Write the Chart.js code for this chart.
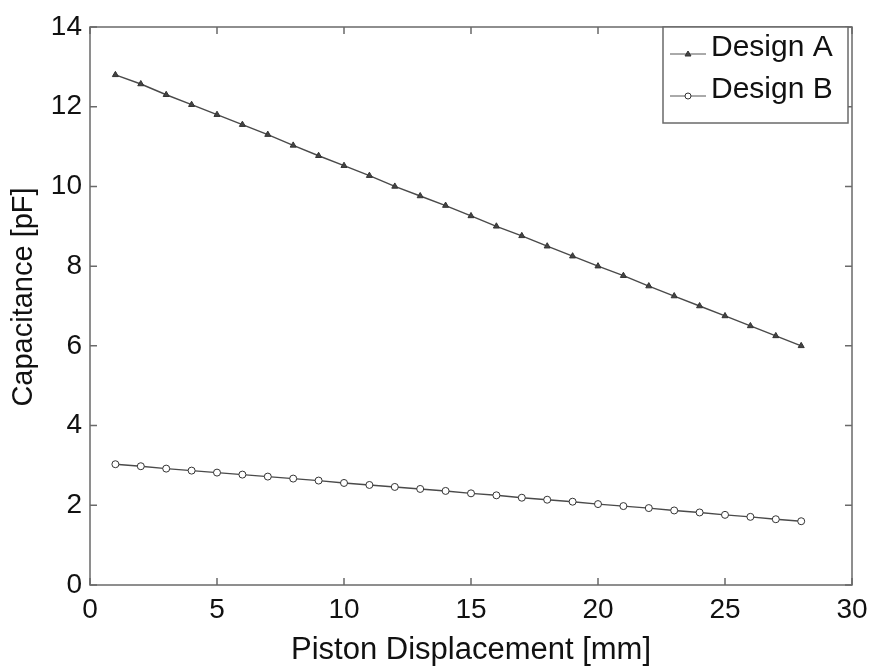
<!DOCTYPE html>
<html>
<head>
<meta charset="utf-8">
<script src="https://cdn.jsdelivr.net/npm/chart.js@4.4.1/dist/chart.umd.min.js"></script>
<style>
  html, body { margin: 0; padding: 0; background: #fff; }
  #wrap { width: 869px; height: 669px; }
</style>
</head>
<body>
<div id="wrap"><canvas id="capChart" width="869" height="669"></canvas></div>
<script>
// piston displacement [mm]
const displacement = [1, 2, 3, 4, 5, 6, 7, 8, 9, 10, 11, 12, 13, 14, 15, 16, 17, 18, 19, 20, 21, 22, 23, 24, 25, 26, 27, 28];
// capacitance [pF]
const designA = [12.8, 12.57, 12.3, 12.05, 11.8, 11.55, 11.3, 11.03, 10.77, 10.52, 10.27, 10.0, 9.76, 9.52,
                 9.26, 9.0, 8.76, 8.5, 8.25, 8.0, 7.76, 7.5, 7.25, 7.0, 6.75, 6.5, 6.25, 6.0];
const designB = [3.03, 2.98, 2.92, 2.87, 2.82, 2.77, 2.72, 2.67, 2.62, 2.56, 2.51, 2.46, 2.41, 2.36,
                 2.3, 2.25, 2.19, 2.14, 2.09, 2.03, 1.98, 1.93, 1.87, 1.82, 1.76, 1.71, 1.65, 1.6];
const xTicks = [0, 5, 10, 15, 20, 25, 30];
const yTicks = [0, 2, 4, 6, 8, 10, 12, 14];
const yTitle = 'Capacitance [pF]';

const FONT = '"Liberation Sans", Arial, Helvetica, sans-serif';
const AXIS_COLOR = '#6a6a6a';

// MATLAB style box with inward ticks, plus the y axis title
const boxPlugin = {
    id: 'boxTicks',
    afterDatasetsDraw(chart) {
        const { ctx, chartArea: a, scales } = chart;
        const len = 7;
        ctx.save();
        ctx.strokeStyle = AXIS_COLOR;
        ctx.lineWidth = 1.5;
        ctx.strokeRect(a.left, a.top, a.right - a.left, a.bottom - a.top);
        ctx.beginPath();
        xTicks.forEach(v => {
            const px = scales.x.getPixelForValue(v);
            ctx.moveTo(px, a.bottom); ctx.lineTo(px, a.bottom - len);
            ctx.moveTo(px, a.top); ctx.lineTo(px, a.top + len);
        });
        yTicks.forEach(v => {
            const py = scales.y.getPixelForValue(v);
            ctx.moveTo(a.left, py); ctx.lineTo(a.left + len, py);
            ctx.moveTo(a.right, py); ctx.lineTo(a.right - len, py);
        });
        ctx.stroke();

        // y title sits a bit above the plot centre in the original
        ctx.translate(24, (a.top + a.bottom) / 2 - 9);
        ctx.rotate(-Math.PI / 2);
        ctx.fillStyle = '#111';
        ctx.font = '29px ' + FONT;
        ctx.textAlign = 'center';
        ctx.textBaseline = 'middle';
        ctx.fillText(yTitle, 0, 0);
        ctx.restore();
    }
};

// legend box in the top right corner
const legendPlugin = {
    id: 'boxLegend',
    afterDraw(chart) {
        const { ctx, chartArea: a } = chart;
        const boxW = 185, boxH = 96;
        const x0 = a.right - boxW - 4, y0 = a.top;
        ctx.save();
        ctx.fillStyle = '#fff';
        ctx.fillRect(x0, y0, boxW, boxH);
        ctx.strokeStyle = AXIS_COLOR;
        ctx.lineWidth = 1.5;
        ctx.strokeRect(x0, y0, boxW, boxH);
        chart.data.datasets.forEach((ds, i) => {
            const cy = y0 + 20 + i * 42;
            const ly = cy + 7;
            ctx.strokeStyle = '#555';
            ctx.lineWidth = 1;
            ctx.beginPath();
            ctx.moveTo(x0 + 7, ly); ctx.lineTo(x0 + 43, ly);
            ctx.stroke();
            ctx.fillStyle = ds.pointBackgroundColor;
            ctx.strokeStyle = '#333';
            ctx.beginPath();
            if (ds.pointStyle === 'triangle') {
                ctx.moveTo(x0 + 25, ly - 3); ctx.lineTo(x0 + 28, ly + 2); ctx.lineTo(x0 + 22, ly + 2);
                ctx.closePath();
            } else {
                ctx.arc(x0 + 25, ly, 3, 0, Math.PI * 2);
            }
            ctx.fill(); ctx.stroke();
            ctx.fillStyle = '#111';
            ctx.font = '30px ' + FONT;
            ctx.textBaseline = 'middle';
            ctx.fillText(ds.label, x0 + 48, cy + 1);
        });
        ctx.restore();
    }
};

const ctx = document.getElementById('capChart').getContext('2d');

new Chart(ctx, {
    type: 'line',
    data: {
        datasets: [{
            label: 'Design A',
            data: displacement.map((d, i) => ({ x: d, y: designA[i] })),
            borderColor: '#4a4a4a',
            borderWidth: 1.4,
            pointStyle: 'triangle',
            pointRadius: 3.5,
            pointBackgroundColor: '#444',
            pointBorderColor: '#333',
            pointBorderWidth: 1
        }, {
            label: 'Design B',
            data: displacement.map((d, i) => ({ x: d, y: designB[i] })),
            borderColor: '#4a4a4a',
            borderWidth: 1.4,
            pointStyle: 'circle',
            pointRadius: 3.5,
            pointBackgroundColor: '#fff',
            pointBorderColor: '#333',
            pointBorderWidth: 1
        }]
    },
    options: {
        responsive: false,
        animation: false,
        layout: { padding: { top: 27, right: 17, left: 0, bottom: 0 } },
        plugins: {
            legend: { display: false },
            tooltip: { enabled: false }
        },
        scales: {
            x: {
                type: 'linear',
                min: 0, max: 30,
                afterBuildTicks: s => { s.ticks = xTicks.map(v => ({ value: v })); },
                afterFit: s => { s.height = 84; s.paddingLeft = 0; s.paddingRight = 0; },
                grid: { display: false, drawTicks: false },
                border: { display: false },
                ticks: { color: '#111', font: { family: FONT, size: 28 }, padding: 8, maxRotation: 0 },
                title: { display: true, text: 'Piston Displacement [mm]', color: '#111',
                         font: { family: FONT, size: 31 }, padding: { top: 0, bottom: 0 } }
            },
            y: {
                min: 0, max: 14,
                afterBuildTicks: s => { s.ticks = yTicks.map(v => ({ value: v })); },
                afterFit: s => { s.width = 90; s.paddingTop = 0; s.paddingBottom = 0; },
                grid: { display: false, drawTicks: false },
                border: { display: false },
                ticks: { color: '#111', font: { family: FONT, size: 28 }, padding: 8 }
            }
        }
    },
    plugins: [boxPlugin, legendPlugin]
});
</script>
</body>
</html>
